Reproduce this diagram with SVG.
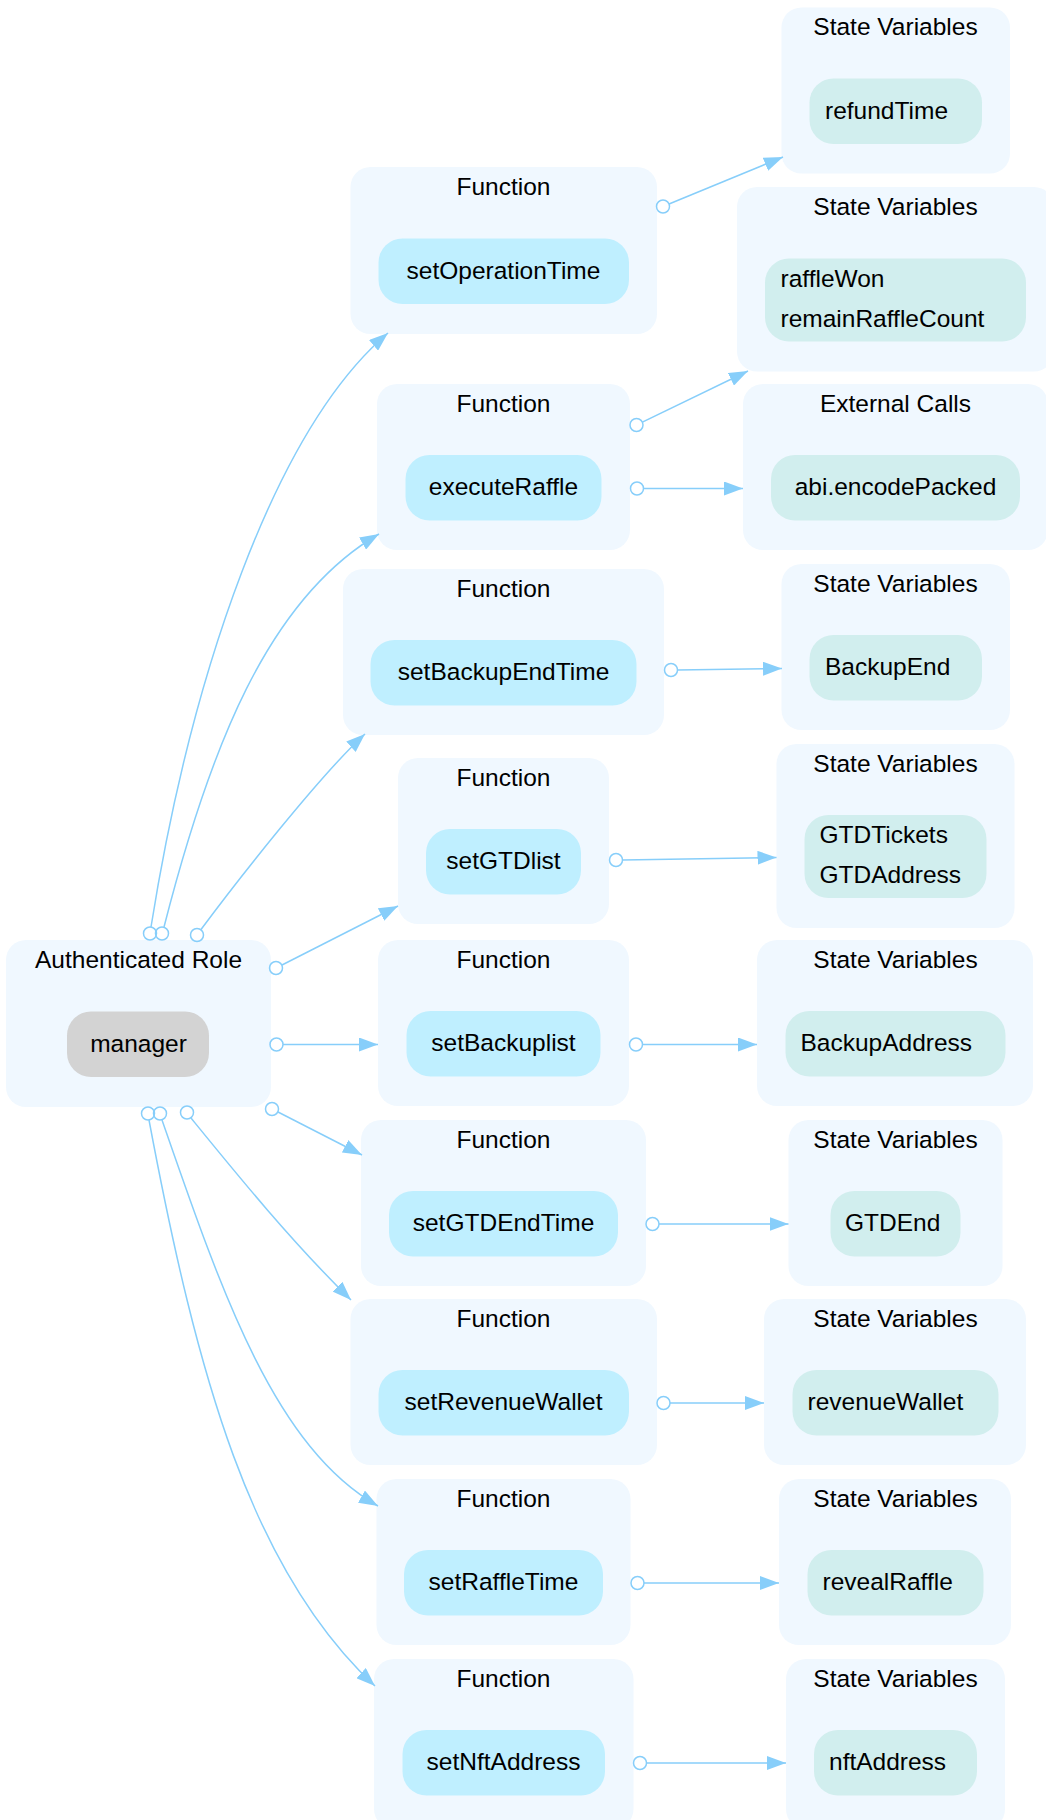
<svg xmlns="http://www.w3.org/2000/svg" width="1046" height="1820" viewBox="0 0 1046 1820">
<style>
  text { font-family: "Liberation Sans", Arial, sans-serif; font-size: 24.5px; fill: #000; }
  .cl { fill: #f0f8ff; }
  .fn { fill: #bfefff; }
  .sv { fill: #d1eeee; }
  .role { fill: #d3d3d3; }
  .mid { text-anchor: middle; }
  .edge { fill: none; stroke: #87cefa; stroke-width: 1.5; }
  .tail { fill: none; stroke: #87cefa; stroke-width: 1.5; }
</style>
<defs>
  <marker id="arrow" markerUnits="userSpaceOnUse" viewBox="0 0 20 14" markerWidth="20" markerHeight="14" refX="19" refY="7" orient="auto">
    <path d="M0,0 L19,7 L0,14 z" fill="#87cefa"/>
  </marker>
</defs>

<!-- Authenticated Role -->
<g id="role">
  <rect class="cl" x="6" y="940" width="265" height="167" rx="20"/>
  <text class="mid" x="138.5" y="967.5">Authenticated Role</text>
  <rect class="role" x="67" y="1011.5" width="142" height="65.5" rx="24"/>
  <text class="mid" x="138.5" y="1051.5">manager</text>
</g>

<!-- Functions -->
<g id="fn-setOperationTime">
  <rect class="cl" x="350.5" y="167" width="306.5" height="167" rx="20"/>
  <text class="mid" x="503.5" y="194.5">Function</text>
  <rect class="fn" x="378.5" y="238.5" width="250.5" height="65.5" rx="24"/>
  <text class="mid" x="503.5" y="278.5">setOperationTime</text>
</g>
<g id="fn-executeRaffle">
  <rect class="cl" x="377" y="384" width="253" height="166" rx="20"/>
  <text class="mid" x="503.5" y="411.5">Function</text>
  <rect class="fn" x="405.5" y="455" width="196" height="65.5" rx="24"/>
  <text class="mid" x="503.5" y="495">executeRaffle</text>
</g>
<g id="fn-setBackupEndTime">
  <rect class="cl" x="343" y="569" width="321" height="166" rx="20"/>
  <text class="mid" x="503.5" y="596.5">Function</text>
  <rect class="fn" x="370.5" y="640" width="266" height="65.5" rx="24"/>
  <text class="mid" x="503.5" y="680">setBackupEndTime</text>
</g>
<g id="fn-setGTDlist">
  <rect class="cl" x="398" y="758" width="211" height="166" rx="20"/>
  <text class="mid" x="503.5" y="785.5">Function</text>
  <rect class="fn" x="426" y="829" width="155" height="65.5" rx="24"/>
  <text class="mid" x="503.5" y="869">setGTDlist</text>
</g>
<g id="fn-setBackuplist">
  <rect class="cl" x="378" y="940" width="251" height="166" rx="20"/>
  <text class="mid" x="503.5" y="967.5">Function</text>
  <rect class="fn" x="406.5" y="1011" width="194" height="65.5" rx="24"/>
  <text class="mid" x="503.5" y="1051">setBackuplist</text>
</g>
<g id="fn-setGTDEndTime">
  <rect class="cl" x="361" y="1120" width="285" height="166" rx="20"/>
  <text class="mid" x="503.5" y="1147.5">Function</text>
  <rect class="fn" x="389" y="1191" width="229" height="65.5" rx="24"/>
  <text class="mid" x="503.5" y="1231">setGTDEndTime</text>
</g>
<g id="fn-setRevenueWallet">
  <rect class="cl" x="350.5" y="1299" width="306.5" height="166" rx="20"/>
  <text class="mid" x="503.5" y="1326.5">Function</text>
  <rect class="fn" x="378.5" y="1370" width="250.5" height="65.5" rx="24"/>
  <text class="mid" x="503.5" y="1410">setRevenueWallet</text>
</g>
<g id="fn-setRaffleTime">
  <rect class="cl" x="376.5" y="1479" width="254" height="166" rx="20"/>
  <text class="mid" x="503.5" y="1506.5">Function</text>
  <rect class="fn" x="404" y="1550" width="199" height="65.5" rx="24"/>
  <text class="mid" x="503.5" y="1590">setRaffleTime</text>
</g>
<g id="fn-setNftAddress">
  <rect class="cl" x="374" y="1659" width="259.5" height="170" rx="20"/>
  <text class="mid" x="503.5" y="1686.5">Function</text>
  <rect class="fn" x="402.5" y="1730" width="202.5" height="65.5" rx="24"/>
  <text class="mid" x="503.5" y="1769.5">setNftAddress</text>
</g>

<!-- State variables / external calls -->
<g id="sv-refundTime">
  <rect class="cl" x="781.5" y="7.5" width="228.5" height="166" rx="20"/>
  <text class="mid" x="895.5" y="35">State Variables</text>
  <rect class="sv" x="809.5" y="78.5" width="172.5" height="65.5" rx="24"/>
  <text x="825" y="118.5">refundTime</text>
</g>
<g id="sv-raffle">
  <rect class="cl" x="737" y="187" width="317" height="184.5" rx="20"/>
  <text class="mid" x="895.5" y="214.5">State Variables</text>
  <rect class="sv" x="765" y="258.5" width="261" height="83" rx="24"/>
  <text x="780.5" y="286.7">raffleWon</text>
  <text x="780.5" y="326.7">remainRaffleCount</text>
</g>
<g id="ext-calls">
  <rect class="cl" x="743" y="384" width="305" height="166" rx="20"/>
  <text class="mid" x="895.5" y="411.5">External Calls</text>
  <rect class="sv" x="771" y="455" width="249" height="65.5" rx="24"/>
  <text class="mid" x="895.5" y="495">abi.encodePacked</text>
</g>
<g id="sv-BackupEnd">
  <rect class="cl" x="781.5" y="564" width="228.5" height="166" rx="20"/>
  <text class="mid" x="895.5" y="591.5">State Variables</text>
  <rect class="sv" x="809.5" y="635" width="172.5" height="65.5" rx="24"/>
  <text x="825" y="675">BackupEnd</text>
</g>
<g id="sv-GTD">
  <rect class="cl" x="776.5" y="744" width="238" height="184" rx="20"/>
  <text class="mid" x="895.5" y="771.5">State Variables</text>
  <rect class="sv" x="804.5" y="815" width="182" height="83" rx="24"/>
  <text x="819.5" y="843">GTDTickets</text>
  <text x="819.5" y="883">GTDAddress</text>
</g>
<g id="sv-BackupAddress">
  <rect class="cl" x="757" y="940" width="276" height="166" rx="20"/>
  <text class="mid" x="895.5" y="967.5">State Variables</text>
  <rect class="sv" x="785.5" y="1011" width="220" height="65.5" rx="24"/>
  <text x="800.5" y="1051">BackupAddress</text>
</g>
<g id="sv-GTDEnd">
  <rect class="cl" x="788.5" y="1120" width="214" height="166" rx="20"/>
  <text class="mid" x="895.5" y="1147.5">State Variables</text>
  <rect class="sv" x="830.5" y="1191" width="130" height="65.5" rx="24"/>
  <text x="845" y="1231">GTDEnd</text>
</g>
<g id="sv-revenueWallet">
  <rect class="cl" x="764" y="1299" width="262" height="166" rx="20"/>
  <text class="mid" x="895.5" y="1326.5">State Variables</text>
  <rect class="sv" x="792.5" y="1370" width="206" height="65.5" rx="24"/>
  <text x="807.5" y="1410">revenueWallet</text>
</g>
<g id="sv-revealRaffle">
  <rect class="cl" x="779" y="1479" width="232" height="166" rx="20"/>
  <text class="mid" x="895.5" y="1506.5">State Variables</text>
  <rect class="sv" x="807.5" y="1550" width="176" height="65.5" rx="24"/>
  <text x="822.5" y="1590">revealRaffle</text>
</g>
<g id="sv-nftAddress">
  <rect class="cl" x="786" y="1659" width="219" height="170" rx="20"/>
  <text class="mid" x="895.5" y="1686.5">State Variables</text>
  <rect class="sv" x="814" y="1730" width="163" height="65.5" rx="24"/>
  <text x="829" y="1769.5">nftAddress</text>
</g>

<!-- Connectors -->
<g id="connectors">
  <circle class="tail" cx="150" cy="933.5" r="6.5"/>
  <path class="edge" marker-end="url(#arrow)" d="M151,927 C191,676 274,430 388,333"/>
  <circle class="tail" cx="162" cy="933.5" r="6.5"/>
  <path class="edge" marker-end="url(#arrow)" d="M164,927 C209,751 267,599 379,534"/>
  <circle class="tail" cx="197" cy="935" r="6.5"/>
  <path class="edge" marker-end="url(#arrow)" d="M201,929.5 C237,881 321,774 365,734"/>
  <circle class="tail" cx="276" cy="968" r="6.5"/>
  <path class="edge" marker-end="url(#arrow)" d="M282,965 L398,906"/>
  <circle class="tail" cx="276.5" cy="1044.5" r="6.5"/>
  <path class="edge" marker-end="url(#arrow)" d="M283,1044.5 L378,1044.5"/>
  <circle class="tail" cx="272" cy="1109" r="6.5"/>
  <path class="edge" marker-end="url(#arrow)" d="M278,1112 L362,1155"/>
  <circle class="tail" cx="187" cy="1112.5" r="6.5"/>
  <path class="edge" marker-end="url(#arrow)" d="M191,1118 C235,1172 290,1240 351,1300"/>
  <circle class="tail" cx="160" cy="1113.5" r="6.5"/>
  <path class="edge" marker-end="url(#arrow)" d="M162,1120 C221,1290 274,1447 378,1506"/>
  <circle class="tail" cx="148" cy="1113.5" r="6.5"/>
  <path class="edge" marker-end="url(#arrow)" d="M149,1120 C197,1376 251,1571 375,1686"/>

  <circle class="tail" cx="663" cy="206.5" r="6.5"/>
  <path class="edge" marker-end="url(#arrow)" d="M669,204 L783,157"/>
  <circle class="tail" cx="636.5" cy="425" r="6.5"/>
  <path class="edge" marker-end="url(#arrow)" d="M642.4,422.2 L748,371"/>
  <circle class="tail" cx="637" cy="488.5" r="6.5"/>
  <path class="edge" marker-end="url(#arrow)" d="M643.5,488.5 L743,488.5"/>
  <circle class="tail" cx="671" cy="670" r="6.5"/>
  <path class="edge" marker-end="url(#arrow)" d="M677.5,670 L782,668.5"/>
  <circle class="tail" cx="616" cy="860" r="6.5"/>
  <path class="edge" marker-end="url(#arrow)" d="M622.5,860 L776.5,857.5"/>
  <circle class="tail" cx="636" cy="1044.5" r="6.5"/>
  <path class="edge" marker-end="url(#arrow)" d="M642.5,1044.5 L757,1044.5"/>
  <circle class="tail" cx="652.5" cy="1224" r="6.5"/>
  <path class="edge" marker-end="url(#arrow)" d="M659,1224 L788.5,1224"/>
  <circle class="tail" cx="663.5" cy="1403" r="6.5"/>
  <path class="edge" marker-end="url(#arrow)" d="M670,1403 L764,1403"/>
  <circle class="tail" cx="637.5" cy="1583" r="6.5"/>
  <path class="edge" marker-end="url(#arrow)" d="M644,1583 L779,1583"/>
  <circle class="tail" cx="640" cy="1763" r="6.5"/>
  <path class="edge" marker-end="url(#arrow)" d="M646.5,1763 L786,1763"/>
</g>
</svg>
